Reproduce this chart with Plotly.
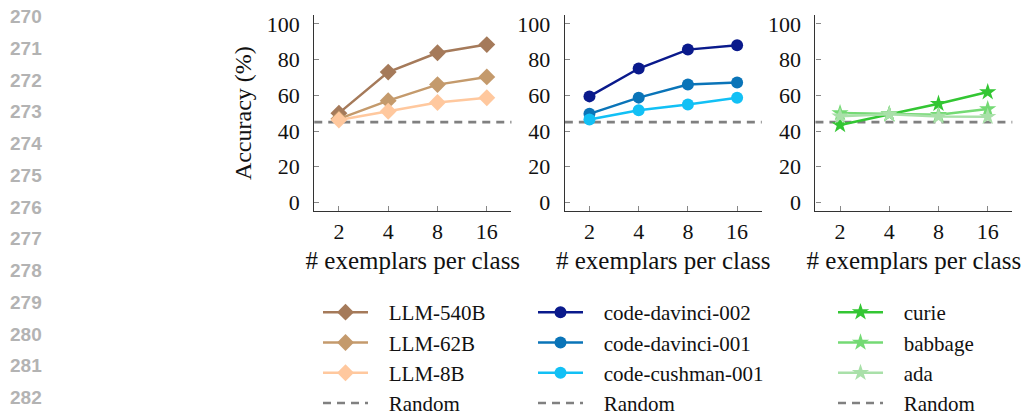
import math
import plotly.graph_objects as go

# ---- data -------------------------------------------------------------
exemplars = [2, 4, 8, 16]
tick_text = ["2", "4", "8", "16"]
random_baseline = 45

llm_names = ["LLM-540B", "LLM-62B", "LLM-8B"]
llm_540b = [50.0, 73.0, 83.8, 88.4]
llm_62b = [46.8, 57.0, 66.0, 70.3]
llm_8b = [46.2, 51.1, 56.0, 58.6]

codex_names = ["code-davinci-002", "code-davinci-001", "code-cushman-001"]
code_davinci_002 = [59.4, 75.0, 85.6, 88.0]
code_davinci_001 = [49.6, 58.7, 66.0, 67.2]
code_cushman_001 = [46.4, 51.6, 54.8, 58.6]

gpt3_names = ["curie", "babbage", "ada"]
curie = [43.4, 49.4, 55.3, 61.8]
babbage = [50.1, 49.4, 49.1, 52.3]
ada = [48.2, 49.4, 48.1, 48.0]

line_numbers = list(range(270, 283))

# ---- styling ----------------------------------------------------------
SERIF = "Liberation Serif"
PAD = "\u00a0\u00a0\u00a0"  # gap between legend sample and its label
panels = [
    dict(names=llm_names, series=[llm_540b, llm_62b, llm_8b],
         colors=["#a57a5a", "#c49a6c", "#ffc89e"], symbol="diamond", size=13),
    dict(names=codex_names, series=[code_davinci_002, code_davinci_001, code_cushman_001],
         colors=["#0a1a8c", "#0a74b8", "#12c0f5"], symbol="circle", size=12),
    dict(names=gpt3_names, series=[curie, babbage, ada],
         colors=["#33c633", "#74da74", "#a9e0a9"], symbol="star", size=13),
]
x_domains = [(0.306, 0.498), (0.550, 0.7417), (0.794, 0.9857)]
y_domain = (0.492, 0.964)
legend_x = [318, 533, 833]

# log axis range: half a doubling of padding on each side
half_step = 0.5 * math.log10(2)
x_range = [math.log10(exemplars[0]) - half_step, math.log10(exemplars[-1]) + half_step]

fig = go.Figure()

for i, p in enumerate(panels):
    k = "" if i == 0 else str(i + 1)
    xa, ya = "x" + k, "y" + k
    leg = "legend" + k

    # baseline line across the whole panel
    fig.add_shape(type="line", xref=f"{xa} domain", yref=ya, x0=0, x1=1,
                  y0=random_baseline, y1=random_baseline,
                  line=dict(color="#808080", width=2.6, dash="8px,6px"), layer="below")

    for rank, (name, vals, col) in enumerate(zip(p["names"], p["series"], p["colors"])):
        fig.add_trace(go.Scatter(
            x=exemplars, y=vals, name=PAD + name, mode="lines+markers",
            xaxis=xa, yaxis=ya, legend=leg, legendrank=rank + 1,
            line=dict(color=col, width=2.5),
            marker=dict(symbol=p["symbol"], size=p["size"], color=col,
                        line=dict(width=0)),
        ))
    # legend entry for the baseline
    fig.add_trace(go.Scatter(
        x=[None], y=[None], name=PAD + "Random", mode="lines",
        xaxis=xa, yaxis=ya, legend=leg, legendrank=10,
        line=dict(color="#808080", width=2.6, dash="8px,6px"),
    ))

    axis_common = dict(
        showline=True, linecolor="#333333", linewidth=1.2,
        ticks="inside", ticklen=5, tickcolor="#888888", tickwidth=1,
        showgrid=False, zeroline=False,
        tickfont=dict(family=SERIF, size=22, color="#111111"),
    )
    fig.layout["xaxis" + k] = dict(
        axis_common, type="log", domain=x_domains[i], range=x_range,
        tickvals=exemplars, ticktext=tick_text, anchor=ya, ticklabelstandoff=0,
        title=dict(text="# exemplars per class", standoff=8,
                   font=dict(family=SERIF, size=25, color="#111111")),
    )
    yaxis = dict(
        axis_common, domain=y_domain, range=[-5, 105], tickvals=[0, 20, 40, 60, 80, 100],
        anchor=xa, ticklabelstandoff=9,
    )
    if i == 0:
        yaxis["title"] = dict(text="Accuracy (%)", standoff=8,
                              font=dict(family=SERIF, size=24, color="#111111"))
    fig.layout["yaxis" + k] = yaxis

    fig.layout[leg] = dict(
        x=legend_x[i] / 1027, y=1 - 292 / 416, xanchor="left", yanchor="top",
        font=dict(family=SERIF, size=21, color="#111111"),
        bgcolor="rgba(0,0,0,0)", itemwidth=45, tracegroupgap=0,
        itemclick=False, itemdoubleclick=False,
    )

# line numbers down the left margin
for j, num in enumerate(line_numbers):
    fig.add_annotation(
        x=44 / 1027, y=1 - (16.5 + 31.75 * j) / 416, xref="paper", yref="paper",
        xanchor="right", yanchor="middle", showarrow=False, text=str(num),
        font=dict(family="Liberation Sans", size=19, color="#b3b3b3", weight="bold"),
    )

fig.update_layout(
    width=1027, height=416,
    margin=dict(l=0, r=0, t=0, b=0, autoexpand=False),
    paper_bgcolor="white", plot_bgcolor="white", showlegend=True,
)

fig.write_html("out.html")
